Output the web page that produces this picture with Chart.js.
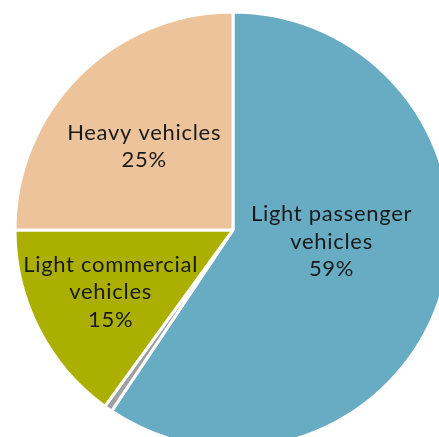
<!DOCTYPE html>
<html>
<head>
<meta charset="utf-8">
<script src="https://cdn.jsdelivr.net/npm/chart.js@4/dist/chart.umd.min.js"></script>
<style>
html,body{margin:0;padding:0;background:#fff;overflow:hidden;}
#wrap{position:absolute;left:0;top:0;width:466px;height:460px;}
</style>
</head>
<body>
<div id="wrap"><canvas id="c"></canvas></div>
<script>
const categories = ["Light passenger vehicles", "Other", "Light commercial vehicles", "Heavy vehicles"];
const shares = [59.4, 0.6, 15, 25];
const labelLines = [["Light passenger", "vehicles", "59%"], [], ["Light commercial", "vehicles", "15%"], ["Heavy vehicles", "25%"]];
const colors = ["#68ACC4", "#A0A0A0", "#ABB000", "#EDC39B"];

const labelPlugin = {
  id: 'sliceLabels',
  afterDatasetsDraw(chart, args, opts) {
    const ctx = chart.ctx;
    const meta = chart.getDatasetMeta(0);
    ctx.save();
    ctx.font = opts.font;
    if ('letterSpacing' in ctx) ctx.letterSpacing = opts.letterSpacing;
    ctx.fillStyle = opts.color;
    ctx.textAlign = 'center';
    ctx.textBaseline = 'middle';
    meta.data.forEach((arc, i) => {
      const lines = labelLines[i];
      if (!lines.length) return;
      const p = arc.getProps(['x','y','startAngle','endAngle','outerRadius'], true);
      const a = (p.startAngle + p.endAngle) / 2 + opts.angleShift[i];
      const r = p.outerRadius * opts.radiusFrac[i];
      const cx = p.x + Math.cos(a) * r;
      const cy = p.y + Math.sin(a) * r;
      const lh = opts.lineHeight;
      const top = cy - (lines.length - 1) * lh / 2;
      lines.forEach((t, k) => ctx.fillText(t, cx, top + k * lh));
    });
    ctx.restore();
  }
};

new Chart(document.getElementById('c'), {
  type: 'pie',
  data: {
    labels: categories,
    datasets: [{
      data: shares,
      backgroundColor: colors,
      borderColor: '#ffffff',
      borderWidth: 3
    }]
  },
  options: {
    responsive: true,
    maintainAspectRatio: false,
    animation: false,
    radius: 218,
    layout: { padding: 0 },
    plugins: {
      legend: { display: false },
      tooltip: { enabled: false },
      sliceLabels: {
        font: '22px Lato',
        letterSpacing: '0.7px',
        color: '#1a1a1a',
        lineHeight: 27.5,
        radiusFrac: [0.455, 0, 0.63, 0.56],
        angleShift: [-0.18, 0, 0, -0.03]
      }
    }
  },
  plugins: [labelPlugin]
});
</script>
</body>
</html>
